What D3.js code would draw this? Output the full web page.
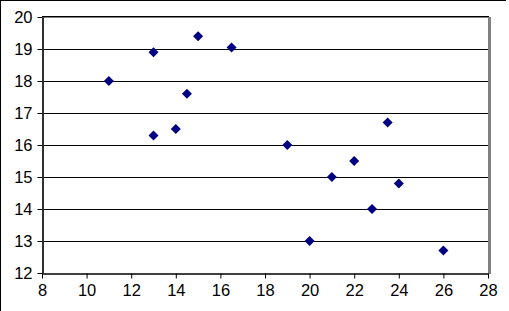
<!DOCTYPE html>
<html>
<head>
<meta charset="utf-8">
<script src="https://cdn.jsdelivr.net/npm/d3@7"></script>
<style>
  body { margin: 0; background: white; }
  svg { display: block; font-family: "Liberation Sans", Arial, sans-serif; }
</style>
</head>
<body>
<div id="chart"></div>
<script>
const width = 509
const height = 311

// valores
const xs = [11, 13, 15, 16.5, 14.5, 13, 14, 19, 21, 22, 23.5, 24, 22.8, 20, 26]
const ys = [18, 18.9, 19.4, 19.05, 17.6, 16.3, 16.5, 16, 15, 15.5, 16.7, 14.8, 14, 13, 12.7]
const xTicks = [8, 10, 12, 14, 16, 18, 20, 22, 24, 26, 28]
const yTicks = [12, 13, 14, 15, 16, 17, 18, 19, 20]

const color_punto = "#000080"

const svg = d3.select("#chart").append("svg")
    .attr("width", width)
    .attr("height", height)

// borde exterior (solo arriba e izquierda visibles)
svg.append("line").attr("x1", 0).attr("x2", 506).attr("y1", 0.5).attr("y2", 0.5)
    .attr("stroke", "black")
svg.append("line").attr("x1", 0.5).attr("x2", 0.5).attr("y1", 0).attr("y2", height)
    .attr("stroke", "black")

const x = d3.scaleLinear().domain([8, 28]).range([42, 488])
const y = d3.scaleLinear().domain([12, 20]).range([273, 17])

// lineas de grilla
svg.append("g")
    .selectAll("line")
    .data(yTicks.slice(1, -1))
    .join("line")
    .attr("x1", x(8))
    .attr("x2", x(28))
    .attr("y1", d => Math.round(y(d)) + 0.5)
    .attr("y2", d => Math.round(y(d)) + 0.5)
    .attr("stroke", "black")

// marco del area de trazado
svg.append("line")
    .attr("x1", x(8)).attr("x2", x(28) + 1)
    .attr("y1", y(20) - 0.5).attr("y2", y(20) - 0.5)
    .attr("stroke", "black")
svg.append("line")
    .attr("x1", x(8)).attr("x2", x(28))
    .attr("y1", y(20) + 0.5).attr("y2", y(20) + 0.5)
    .attr("stroke", "#808080")
svg.append("rect")
    .attr("x", x(28))
    .attr("y", y(20))
    .attr("width", 3)
    .attr("height", y(12) - y(20) + 1)
    .attr("fill", "#808080")

// ejes
const ejeX = svg.append("g")
    .attr("transform", `translate(0, ${y(12) + 0.5})`)
    .call(d3.axisBottom(x).tickValues(xTicks).tickSize(5).tickSizeOuter(0))
const ejeY = svg.append("g")
    .attr("transform", `translate(${x(8) + 0.5}, 0)`)
    .call(d3.axisLeft(y).tickValues(yTicks).tickSize(5).tickSizeOuter(0))

ejeX.select(".domain").attr("stroke", "black").attr("stroke-width", 1.5)
ejeY.select(".domain").attr("stroke", "#303030").attr("stroke-width", 2)
ejeX.selectAll(".tick text")
    .attr("font-size", 16.5)
    .attr("font-family", "Liberation Sans, Arial, sans-serif")
    .attr("fill", "black")
    .attr("dy", "0.75em")
    .attr("y", 10)
ejeY.selectAll(".tick text")
    .attr("font-size", 16.5)
    .attr("font-family", "Liberation Sans, Arial, sans-serif")
    .attr("fill", "black")
    .attr("x", -10)
ejeX.selectAll(".tick line").attr("stroke", "black")
ejeY.selectAll(".tick line").attr("stroke", "black")

// puntos en forma de rombo
const datos = xs.map((d, i) => ({ x: d, y: ys[i] }))
const rombo = d3.symbol().type(d3.symbolDiamond2).size(64)

svg.append("g")
    .selectAll("path")
    .data(datos)
    .join("path")
    .attr("d", rombo)
    .attr("transform", d => `translate(${x(d.x)}, ${y(d.y)})`)
    .attr("fill", color_punto)
</script>
</body>
</html>
